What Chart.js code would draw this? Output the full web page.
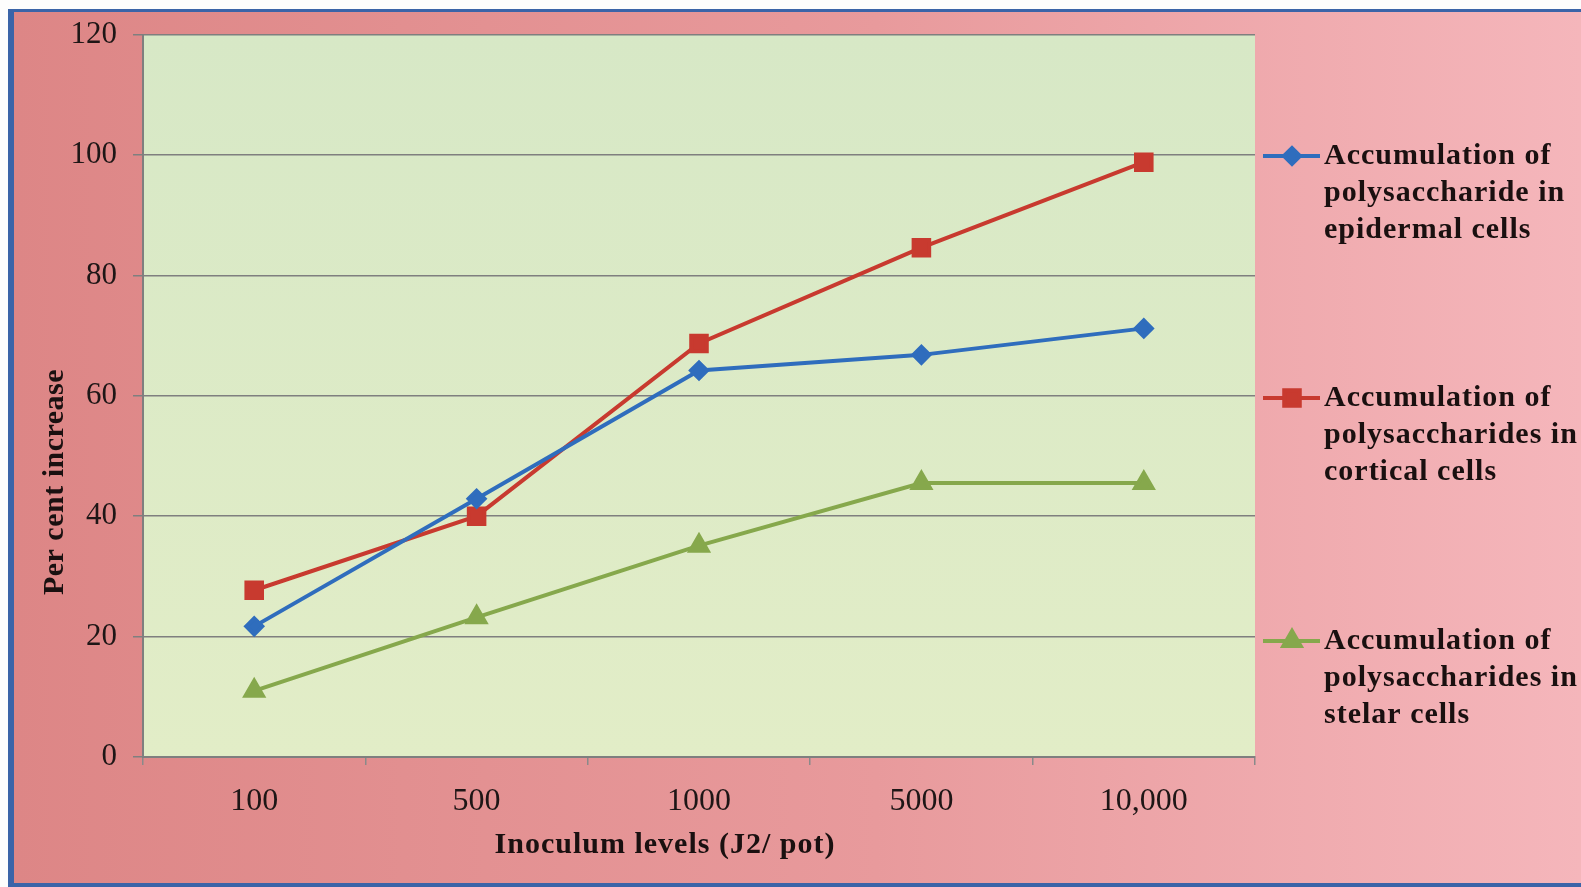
<!DOCTYPE html>
<html>
<head>
<meta charset="utf-8">
<script src="https://cdn.jsdelivr.net/npm/chart.js@4/dist/chart.umd.min.js"></script>
<style>
  html, body { margin: 0; padding: 0; background: #fff; }
  #wrap { width: 1581px; height: 887px; position: relative; }
</style>
</head>
<body>
<div id="wrap"><canvas id="lineChart" width="1581" height="887"></canvas></div>
<script>
// data
var inoculumLevels = ["100", "500", "1000", "5000", "10,000"];
var epidermal = [21.7, 42.9, 64.2, 66.8, 71.2];
var cortical = [27.7, 40.0, 68.7, 84.6, 98.8];
var stelar = [11.0, 23.2, 35.1, 45.5, 45.5];
var yTicks = [0, 20, 40, 60, 80, 100, 120];

var seriesNames = [
  ["Accumulation of", "polysaccharide in", "epidermal cells"],
  ["Accumulation of", "polysaccharides in", "cortical cells"],
  ["Accumulation of", "polysaccharides in", "stelar cells"]
];
var xTitle = "Inoculum levels (J2/ pot)";
var yTitle = "Per cent increase";

var blue = "#2f6dbd";
var red = "#c83a2f";
var green = "#86a84c";

var serif = "'Liberation Serif', 'Times New Roman', serif";

var bgPlugin = {
  id: 'bgPlugin',
  beforeDraw: function(chart) {
    var c = chart.ctx, a = chart.chartArea;
    var w = chart.width, h = chart.height;
    c.save();
    c.fillStyle = "#fdfdfd";
    c.fillRect(0, 0, w, h);
    var g = c.createLinearGradient(14, 0, w, 0);
    g.addColorStop(0, "#dd8686");
    g.addColorStop(0.55, "#e89a9c");
    g.addColorStop(1, "#f5b6bb");
    c.fillStyle = g;
    c.fillRect(14, 12, w - 14, h - 16);
    // blue frame
    c.fillStyle = "#3b64a8";
    c.fillRect(8, 9, 6, h - 9);
    c.fillRect(8, 9, w - 8, 3);
    c.fillRect(8, h - 4, w - 8, 4);
    // plot area
    var pg = c.createLinearGradient(0, a.top, 0, a.bottom);
    pg.addColorStop(0, "#d7e8c6");
    pg.addColorStop(1, "#e2edc7");
    c.fillStyle = pg;
    c.fillRect(a.left, a.top, a.right - a.left, a.bottom - a.top);
    c.restore();
  },
  afterDraw: function(chart) {
    var c = chart.ctx;
    c.save();
    c.fillStyle = "#1a1010";
    c.font = "bold 30px " + serif;
    c.letterSpacing = "1px";
    c.textAlign = "center";
    c.textBaseline = "middle";
    c.fillText(xTitle, 665, 845);
    c.translate(55, 482);
    c.rotate(-Math.PI / 2);
    c.letterSpacing = "0.5px";
    c.fillText(yTitle, 0, 0);
    c.restore();

    // legend on the right
    var rows = [156, 398, 641];
    chart.data.datasets.forEach(function(ds, i) {
      var y = rows[i];
      c.save();
      c.strokeStyle = ds.borderColor;
      c.lineWidth = 4;
      c.beginPath();
      c.moveTo(1263, y);
      c.lineTo(1320, y);
      c.stroke();
      c.fillStyle = ds.pointBackgroundColor;
      c.strokeStyle = ds.pointBackgroundColor;
      Chart.helpers.drawPoint(c, {
        pointStyle: ds.pointStyle,
        radius: ds.pointRadius,
        rotation: 0,
        borderWidth: 1
      }, 1292, y);
      c.fillStyle = "#1a1010";
      c.font = "bold 30px " + serif;
      c.letterSpacing = "1px";
      c.textAlign = "left";
      c.textBaseline = "middle";
      seriesNames[i].forEach(function(line, k) {
        c.fillText(line, 1324, y + k * 37);
      });
      c.restore();
    });
  }
};

var ctx = document.getElementById("lineChart").getContext('2d');
var myChart = new Chart(ctx, {
  type: 'line',
  data: {
    labels: inoculumLevels,
    datasets: [{
      label: seriesNames[0].join(" "),
      data: epidermal,
      borderColor: blue,
      backgroundColor: blue,
      pointBackgroundColor: blue,
      pointBorderColor: blue,
      pointStyle: 'rectRot',
      pointRadius: 8,
      borderWidth: 4,
      tension: 0
    }, {
      label: seriesNames[1].join(" "),
      data: cortical,
      borderColor: red,
      backgroundColor: red,
      pointBackgroundColor: red,
      pointBorderColor: red,
      pointStyle: 'rect',
      pointRadius: 11,
      borderWidth: 4,
      tension: 0
    }, {
      label: seriesNames[2].join(" "),
      data: stelar,
      borderColor: green,
      backgroundColor: green,
      pointBackgroundColor: green,
      pointBorderColor: green,
      pointStyle: 'triangle',
      pointRadius: 10,
      borderWidth: 4,
      tension: 0
    }]
  },
  options: {
    responsive: false,
    animation: false,
    layout: { padding: { left: 15, top: 33, right: 326, bottom: 4 } },
    plugins: {
      legend: { display: false },
      tooltip: { enabled: false }
    },
    scales: {
      x: {
        offset: true,
        grid: {
          offset: true,
          drawOnChartArea: false,
          drawTicks: true,
          tickLength: 8,
          color: "#8a8a8a",
          lineWidth: 1.5
        },
        border: { color: "#7f7f7f", width: 2 },
        ticks: {
          color: "#1e1616",
          font: { family: serif, size: 32 },
          padding: 17
        },
        afterFit: function(scale) { scale.height = 126; }
      },
      y: {
        min: 0,
        max: 120,
        afterBuildTicks: function(scale) {
          scale.ticks = yTicks.map(function(v) { return { value: v }; });
        },
        grid: {
          color: "#7f7f7f",
          lineWidth: 1.5,
          tickLength: 10
        },
        border: { color: "#7f7f7f", width: 2 },
        ticks: {
          color: "#1e1616",
          font: { family: serif, size: 31 },
          padding: 16
        },
        afterFit: function(scale) { scale.width = 128; }
      }
    }
  },
  plugins: [bgPlugin]
});
</script>
</body>
</html>
